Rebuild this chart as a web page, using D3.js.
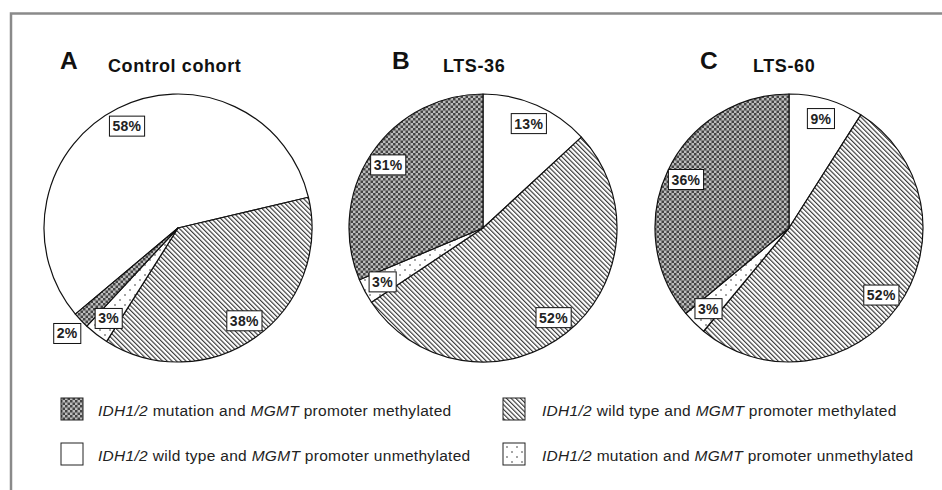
<!DOCTYPE html>
<html>
<head>
<meta charset="utf-8">
<script src="https://cdn.jsdelivr.net/npm/d3@7"></script>
<style>
  body { margin: 0; background: #fff; }
  svg { display: block; font-family: "Liberation Sans", Arial, sans-serif; }
</style>
</head>
<body>
<div id="chart"></div>
<script>
// panels and their values (percent)
var panelLetters = ["A", "B", "C"];
var panelTitles = ["Control cohort", "LTS-36", "LTS-60"];

var wildUnmeth = [58, 13, 9];   // IDH1/2 wild type, MGMT unmethylated
var wildMeth = [38, 52, 52];    // IDH1/2 wild type, MGMT methylated
var mutUnmeth = [3, 3, 3];      // IDH1/2 mutation, MGMT unmethylated
var mutMeth = [2, 31, 36];      // IDH1/2 mutation, MGMT methylated

var categories = [
  "IDH1/2 wild type and MGMT promoter unmethylated",
  "IDH1/2 wild type and MGMT promoter methylated",
  "IDH1/2 mutation and MGMT promoter unmethylated",
  "IDH1/2 mutation and MGMT promoter methylated"
];

function init() {
  var w = 942, h = 490;
  var r = 134;
  var centersX = [178, 483, 789];
  var cy = 228;
  var startDeg = [-130, 0, 0];
  var letterX = [60, 392, 700];
  var titleX = [108, 443, 753];

  var svg = d3.select("#chart").append("svg")
    .attr("width", w)
    .attr("height", h);

  var defs = svg.append("defs");

  // fine grey checker
  var chk = defs.append("pattern")
    .attr("id", "pat3").attr("patternUnits", "userSpaceOnUse")
    .attr("width", 5).attr("height", 5);
  chk.append("rect").attr("width", 5).attr("height", 5).attr("fill", "#bdbdbd");
  chk.append("rect").attr("width", 2.5).attr("height", 2.5).attr("fill", "#454545");
  chk.append("rect").attr("x", 2.5).attr("y", 2.5).attr("width", 2.5).attr("height", 2.5).attr("fill", "#454545");

  // diagonal hatch
  var hatch = defs.append("pattern")
    .attr("id", "pat1").attr("patternUnits", "userSpaceOnUse")
    .attr("width", 3.3).attr("height", 10)
    .attr("patternTransform", "rotate(-45)");
  hatch.append("rect").attr("width", 3.3).attr("height", 10).attr("fill", "#fff");
  hatch.append("line").attr("x1", 0.6).attr("x2", 0.6).attr("y1", 0).attr("y2", 10)
    .attr("stroke", "#1a1a1a").attr("stroke-width", 1);

  // sparse dots
  var dots = defs.append("pattern")
    .attr("id", "pat2").attr("patternUnits", "userSpaceOnUse")
    .attr("width", 10).attr("height", 10);
  dots.append("rect").attr("width", 10).attr("height", 10).attr("fill", "#fff");
  dots.append("circle").attr("cx", 2).attr("cy", 2).attr("r", 0.8).attr("fill", "#333");
  dots.append("circle").attr("cx", 7).attr("cy", 7).attr("r", 0.8).attr("fill", "#333");

  var fills = ["#fff", "url(#pat1)", "url(#pat2)", "url(#pat3)"];

  // frame
  svg.append("rect")
    .attr("x", 11).attr("y", 13.5)
    .attr("width", w + 20).attr("height", h + 20)
    .attr("fill", "none")
    .attr("stroke", "#8a8a8a")
    .attr("stroke-width", 2.5);

  var arc = d3.arc().innerRadius(0).outerRadius(r);

  panelLetters.forEach(function(letter, i) {
    var values = [wildUnmeth[i], wildMeth[i], mutUnmeth[i], mutMeth[i]];
    var a0 = startDeg[i] * Math.PI / 180;
    var pie = d3.pie().sort(null).startAngle(a0).endAngle(a0 + 2 * Math.PI);
    var arcs = pie(values);

    var g = svg.append("g")
      .attr("transform", "translate(" + centersX[i] + "," + cy + ")");

    g.selectAll("path")
      .data(arcs)
      .enter().append("path")
      .attr("d", arc)
      .attr("fill", function(d, j) { return fills[j]; })
      .attr("stroke", "#111")
      .attr("stroke-width", 1.2)
      .attr("stroke-linejoin", "round");

    svg.append("text")
      .attr("x", letterX[i]).attr("y", 69)
      .attr("font-size", 24.5).attr("font-weight", "bold")
      .attr("letter-spacing", 0.5)
      .attr("fill", "#111")
      .text(letter);

    svg.append("text")
      .attr("x", titleX[i]).attr("y", 72)
      .attr("font-size", 18).attr("font-weight", "bold")
      .attr("letter-spacing", 0.6)
      .attr("fill", "#111")
      .text(panelTitles[i]);

    arcs.forEach(function(d) {
      var mid = (d.startAngle + d.endAngle) / 2;
      var lr = d.value < 3 ? 153 : 114;
      var lx = Math.sin(mid) * lr, ly = -Math.cos(mid) * lr;
      var lg = g.append("g").attr("transform", "translate(" + lx + "," + ly + ")");
      var rect = lg.append("rect").attr("fill", "#fff").attr("stroke", "#111").attr("stroke-width", 1);
      var t = lg.append("text")
        .attr("text-anchor", "middle")
        .attr("dy", "0.36em")
        .attr("font-size", 14).attr("font-weight", "bold")
        .attr("letter-spacing", 0.3)
        .attr("fill", "#222")
        .text(d.value + "%");
      var bb = t.node().getBBox();
      rect.attr("x", bb.x - 3).attr("y", bb.y - 2)
        .attr("width", bb.width + 6).attr("height", bb.height + 4);
    });
  });

  // legend order: left column then right column
  var legendOrder = [3, 0, 1, 2];
  var legCol = [[61, 98], [61, 98], [503, 542], [503, 542]];
  var legRowY = [398, 443, 398, 443];

  legendOrder.forEach(function(ci, k) {
    svg.append("rect")
      .attr("x", legCol[k][0]).attr("y", legRowY[k])
      .attr("width", 22).attr("height", 22)
      .attr("fill", fills[ci])
      .attr("stroke", "#222").attr("stroke-width", 1);

    var txt = svg.append("text")
      .attr("x", legCol[k][1]).attr("y", legRowY[k] + 17.5)
      .attr("font-size", 15.5)
      .attr("letter-spacing", 0.3)
      .attr("fill", "#222");
    categories[ci].split(/(IDH1\/2|MGMT)/).filter(function(s) { return s.length; })
      .forEach(function(s) {
        txt.append("tspan")
          .attr("font-style", (s == "IDH1/2" || s == "MGMT") ? "italic" : "normal")
          .text(s);
      });
  });
}

window.onload = init;
</script>
</body>
</html>
